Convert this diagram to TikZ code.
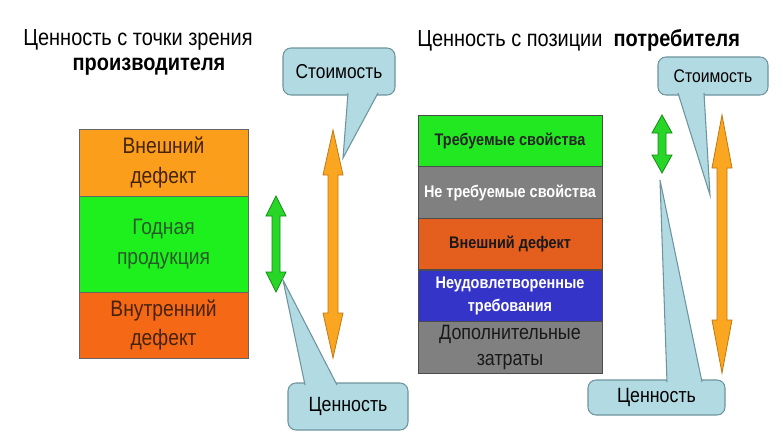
\documentclass[tikz,border=0pt]{standalone}
\usepackage{fontspec}
\setmainfont[FakeStretch=0.86]{Liberation Sans}
\definecolor{lorange}{RGB}{250,158,28}
\definecolor{lgreen}{RGB}{30,240,30}
\definecolor{lred}{RGB}{244,104,22}
\definecolor{rgreen}{RGB}{34,232,34}
\definecolor{rgray}{RGB}{128,128,128}
\definecolor{rred}{RGB}{228,94,30}
\definecolor{rblue}{RGB}{52,52,200}
\definecolor{cfill}{RGB}{178,218,226}
\definecolor{cline}{RGB}{110,148,158}
\definecolor{agfill}{RGB}{40,214,40}
\definecolor{agline}{RGB}{20,140,20}
\definecolor{aofill}{RGB}{250,166,32}
\definecolor{aoline}{RGB}{190,120,20}
\definecolor{dbrown}{RGB}{70,35,10}
\definecolor{dgreen}{RGB}{40,90,40}
\newcommand\vdarrow[7]{%
  \draw[#7] (#1,#2) -- (#1+#5,#2+#6) -- (#1+#4,#2+#6) -- (#1+#4,#3-#6) -- (#1+#5,#3-#6) -- (#1,#3)
   -- (#1-#5,#3-#6) -- (#1-#4,#3-#6) -- (#1-#4,#2+#6) -- (#1-#5,#2+#6) -- cycle;}
\tikzset{
  lstack/.style={draw=black!60, line width=0.6pt, minimum width=126.75pt, inner sep=0pt, align=center,
     font=\fontsize{16.8}{22}\selectfont},
  rstack/.style={draw=black!70, line width=0.6pt, minimum width=138pt, minimum height=38.7pt, inner sep=0pt, align=center,
     font=\fontsize{12.6}{17}\selectfont\bfseries},
  cbox/.style={draw=cline, fill=cfill, line width=0.8pt, rounded corners=6pt, inner sep=0pt},
  ptrfill/.style={fill=cfill},
  ptrline/.style={draw=cline, line width=0.8pt, line join=miter},
  garrow/.style={fill=agfill, draw=agline, line width=0.6pt},
  oarrow/.style={fill=aofill, draw=aoline, line width=0.6pt},
}
\begin{document}
\begin{tikzpicture}[x=0.75pt,y=-0.75pt]
\useasboundingbox (0,0) rectangle (783,446);
\fill[white] (0,0) rectangle (783,446);
% titles
\node[font=\fontsize{17.4}{20}\selectfont] (t1) at (138,40) {Ценность с точки зрения};
\node[font=\fontsize{17.4}{20}\selectfont\bfseries] (t2) at (149,67) {производителя};
\node[font=\fontsize{17.4}{20}\selectfont, anchor=west, inner sep=0pt] (t3) at (417,40) {Ценность с позиции\ \ \textbf{потребителя}};
% left stack
\node[lstack, fill=lorange, minimum height=50.25pt, text=dbrown] (l1) at (163.5,162.5) {Внешний\\дефект};
\node[lstack, fill=lgreen, minimum height=72pt, text=dgreen] (l2) at (163.5,244) {Годная\\продукция};
\node[lstack, fill=lred, minimum height=49.5pt, text=dbrown] (l3) at (163.5,325) {Внутренний\\дефект};
% right stack
\node[rstack, fill=rgreen, text=black!85] (r1) at (510,141) {Требуемые свойства};
\node[rstack, fill=rgray, text=white] (r2) at (510,192.5) {Не требуемые свойства};
\node[rstack, fill=rred, text=black!90] (r3) at (510,244) {Внешний дефект};
\node[rstack, fill=rblue, text=white] (r4) at (510,296) {Неудовлетворенные\\требования};
\node[rstack, fill=rgray, text=black!90, font=\fontsize{15.6}{20}\selectfont] (r5) at (510,347.5) {Дополнительные\\затраты};
% arrows
\vdarrow{276}{196}{292}{4}{10}{20}{garrow}
\vdarrow{333}{130}{358}{5}{10}{45}{oarrow}
\vdarrow{662}{115}{173}{4}{10}{18}{garrow}
\vdarrow{722}{115}{373}{5}{10}{53}{oarrow}
% callouts
\node[cbox, minimum width=84pt, minimum height=35.25pt, font=\fontsize{15.1}{18}\selectfont] (c1) at (339,71.5) {Стоимость};
\coordinate (c1a) at (348,93); \coordinate (c1b) at (378,93); \coordinate (c1t) at (343,158);
\fill[ptrfill] (c1a) -- (c1t) -- (c1b) -- cycle;
\draw[ptrline] (c1a) -- (c1t) -- (c1b);

\node[cbox, minimum width=90pt, minimum height=35.25pt, font=\fontsize{15.5}{18}\selectfont] (c2) at (348,406.5) {Ценность};
\coordinate (c2a) at (305,385); \coordinate (c2b) at (337,385); \coordinate (c2t) at (283,280);
\fill[ptrfill] (c2a) -- (c2t) -- (c2b) -- cycle;
\draw[ptrline] (c2a) -- (c2t) -- (c2b);

\node[cbox, minimum width=82.5pt, minimum height=28.5pt, font=\fontsize{13.7}{16}\selectfont] (c3) at (713,76) {Стоимость};
\coordinate (c3a) at (678,93); \coordinate (c3b) at (704,93); \coordinate (c3t) at (710,195);
\fill[ptrfill] (c3a) -- (c3t) -- (c3b) -- cycle;
\draw[ptrline] (c3a) -- (c3t) -- (c3b);

\node[cbox, minimum width=102.75pt, minimum height=26.25pt, font=\fontsize{15.5}{18}\selectfont] (c4) at (656.5,397.5) {Ценность};
\coordinate (c4a) at (667,382); \coordinate (c4b) at (702,382); \coordinate (c4t) at (660,180);
\fill[ptrfill] (c4a) -- (c4t) -- (c4b) -- cycle;
\draw[ptrline] (c4a) -- (c4t) -- (c4b);
\end{tikzpicture}
\end{document}
